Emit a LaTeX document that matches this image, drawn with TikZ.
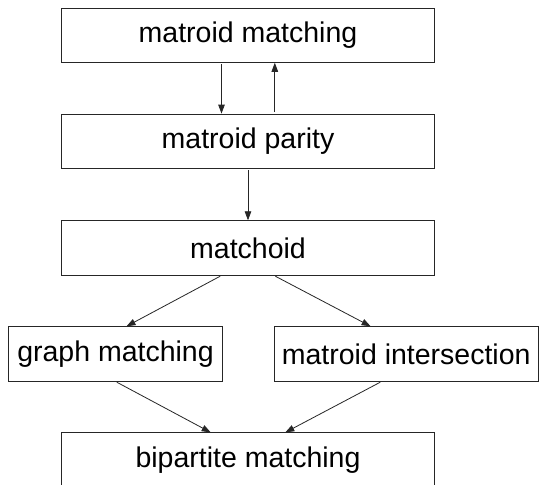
\documentclass[tikz,border=0pt]{standalone}
\usepackage{fontspec}
\setmainfont{Liberation Sans}
\usetikzlibrary{arrows.meta}
\begin{document}
\begin{tikzpicture}[x=1pt,y=-1pt,
  probbox/.style={draw=black!85, line width=0.9pt, rectangle, inner sep=0pt,
    font=\fontsize{28.5}{34}\selectfont, fill=white},
  reduce/.style={draw=black!85, line width=0.8pt,
    -{Triangle[length=9pt,width=6.5pt]}, shorten <=1.5pt}]
  \useasboundingbox[fill=white] (0,0) rectangle (539,485);
  \node[probbox, minimum width=373.7pt, minimum height=54pt] (mm) at (248,35.3) {matroid matching};
  \node[probbox, minimum width=373.7pt, minimum height=54.3pt] (mp) at (248,141.2) {matroid parity};
  \node[probbox, minimum width=373.7pt, minimum height=54.3pt] (mc) at (248,247.9) {matchoid};
  \node[probbox, minimum width=213.8pt, minimum height=54.3pt] (gm) at (115.5,353.9) {graph matching};
  \node[probbox, minimum width=264.5pt, minimum height=54.3pt] (mi) at (406.2,353.9) {matroid intersection};
  \node[probbox, minimum width=373.7pt, minimum height=54.3pt] (bm) at (248,460) {bipartite matching};
  \draw[reduce] ([xshift=-26.5pt]mm.south) -- ([xshift=-26.5pt]mp.north);
  \draw[reduce] ([xshift=26.8pt]mp.north) -- ([xshift=26.8pt]mm.south);
  \draw[reduce] (mp.south) -- (mc.north);
  \draw[reduce] ([xshift=-26.5pt]mc.south) -- ([xshift=11pt]gm.north);
  \draw[reduce] ([xshift=26pt]mc.south) -- ([xshift=-35.6pt]mi.north);
  \draw[reduce] (gm.south) -- ([xshift=-37.3pt]bm.north);
  \draw[reduce] ([xshift=-24.6pt]mi.south) -- ([xshift=37.3pt]bm.north);
\end{tikzpicture}
\end{document}
